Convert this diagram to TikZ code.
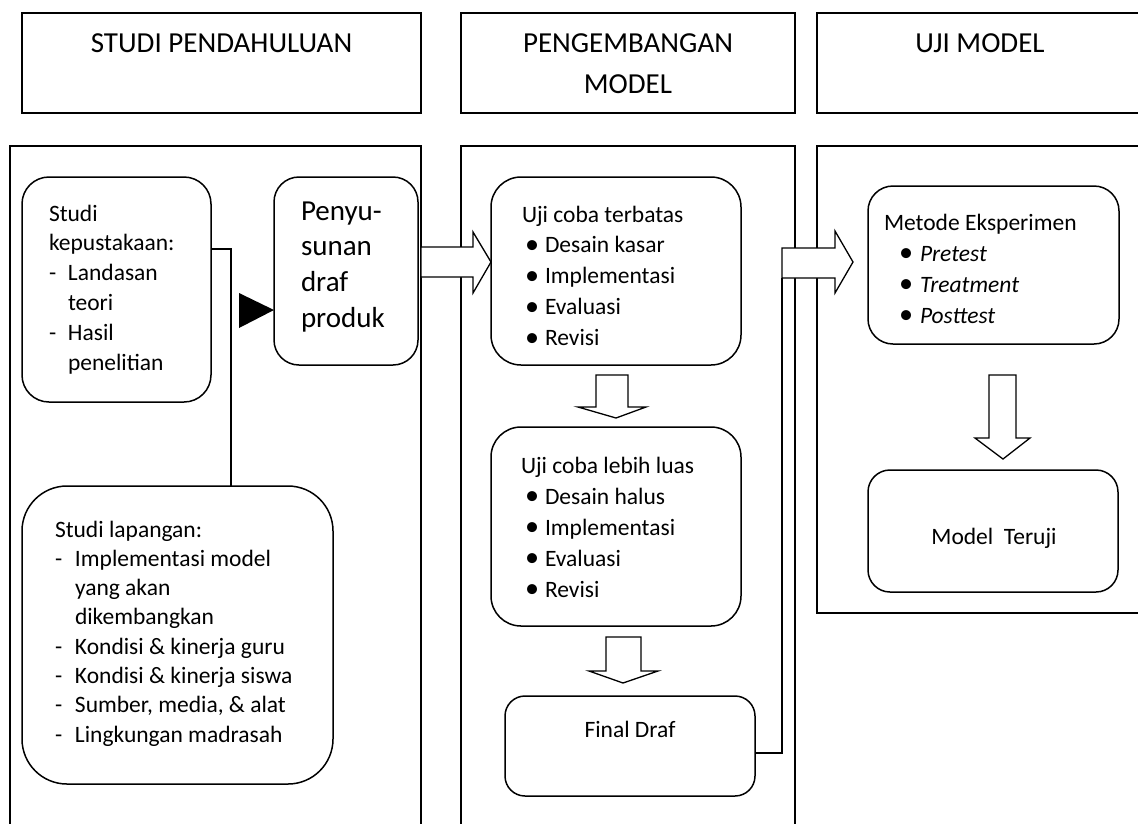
\documentclass[tikz,border=0pt]{standalone}
\usepackage{fontspec}
\usepackage{graphicx}
\setmainfont{Carlito}
\usetikzlibrary{calc}
\newcommand\Lrow[1]{\hbox{#1}}
\newcommand\Dash[2][19pt]{\hbox{\makebox[#1][l]{-}#2}}
\newcommand\Cont[2][19pt]{\hbox{\kern#1#2}}
\newcommand\Bul[3]{\hbox{\kern#1\makebox[#2][l]{\raisebox{-0.04em}{\scalebox{1.2}{•}}}#3}}
\begin{document}
\begin{tikzpicture}[x=1pt,y=-1pt,
  frame/.style={draw, line width=1.6pt, rectangle, inner sep=0pt, outer sep=0pt, anchor=north west},
  rbox/.style={draw, line width=1.5pt, rectangle, inner sep=0pt, outer sep=0pt, anchor=north west, fill=white},
  txt/.style={inner sep=0pt, outer sep=0pt, anchor=base west, font=\fontsize{23.5}{28}\selectfont},
  big/.style={font=\fontsize{29}{34}\selectfont},
  blk/.style={draw, line width=1.3pt, fill=white, line join=miter},
  conn/.style={draw, line width=1.6pt}
]
\useasboundingbox (0,0) rectangle (1138,823);
\clip (0,0) rectangle (1138,823);
\fill[white] (0,0) rectangle (1138,823);

% headers
\node[frame, minimum width=399pt, minimum height=100pt] (h1) at (22,13) {};
\node[frame, minimum width=334pt, minimum height=100pt] (h2) at (461,13) {};
\node[frame, minimum width=330pt, minimum height=100pt] (h3) at (817,13) {};
% columns
\node[frame, minimum width=411pt, minimum height=700pt] (c1) at (10,146) {};
\node[frame, minimum width=334pt, minimum height=700pt] (c2) at (461,146) {};
\node[frame, minimum width=330pt, minimum height=467pt] (c3) at (817,146) {};

% rounded boxes
\node[rbox, rounded corners=27pt, minimum width=189pt, minimum height=225pt] (kep) at (22,177) {};
\node[rbox, rounded corners=25pt, minimum width=144pt, minimum height=188pt] (pen) at (274,177) {};
\node[rbox, rounded corners=45pt, minimum width=311pt, minimum height=298pt] (lap) at (22,486) {};
\node[rbox, rounded corners=30pt, minimum width=250pt, minimum height=188pt] (ujt) at (491,177) {};
\node[rbox, rounded corners=30pt, minimum width=250pt, minimum height=199pt] (ujl) at (491,427) {};
\node[rbox, rounded corners=20pt, minimum width=250pt, minimum height=100pt] (fin) at (505,696) {};
\node[rbox, rounded corners=25pt, minimum width=251pt, minimum height=158pt] (met) at (868,186) {};
\node[rbox, rounded corners=22pt, minimum width=250pt, minimum height=122pt] (mod) at (868,470) {};

% texts
\node[txt, big, anchor=base] (h1t) at (221.5,52) {STUDI PENDAHULUAN};
\node[txt, big, anchor=base] (h2t) at (628,52) {\vtop{\baselineskip=41pt \hbox to 220pt{\hfil PENGEMBANGAN\hfil}\hbox to 220pt{\hfil MODEL\hfil}}};
\node[txt, big, anchor=base] (h3t) at (980,52) {UJI MODEL};

\node[txt] (kept) at (49,221) {\vtop{\baselineskip=29.8pt \Lrow{Studi}\Lrow{kepustakaan:}\Dash{Landasan}\Cont{teori}\Dash{Hasil}\Cont{penelitian}}};
\node[txt, big] (pent) at (301,220) {\vtop{\baselineskip=35.7pt \Lrow{Penyu-}\Lrow{sunan}\Lrow{draf}\Lrow{produk}}};
\node[txt] (lapt) at (55,537) {\vtop{\baselineskip=29.3pt \Lrow{Studi lapangan:}\Dash[20pt]{Implementasi model}\Cont[20pt]{yang akan}\Cont[20pt]{dikembangkan}\Dash[20pt]{Kondisi \& kinerja guru}\Dash[20pt]{Kondisi \& kinerja siswa}\Dash[20pt]{Sumber, media, \& alat}\Dash[20pt]{Lingkungan madrasah}}};
\node[txt] (ujtt) at (522,222) {\vtop{\baselineskip=30.8pt \Lrow{Uji coba terbatas}\Bul{3pt}{20pt}{Desain kasar}\Bul{3pt}{20pt}{Implementasi}\Bul{3pt}{20pt}{Evaluasi}\Bul{3pt}{20pt}{Revisi}}};
\node[txt] (ujlt) at (521,473) {\vtop{\baselineskip=31pt \Lrow{Uji coba lebih luas}\Bul{4pt}{20pt}{Desain halus}\Bul{4pt}{20pt}{Implementasi}\Bul{4pt}{20pt}{Evaluasi}\Bul{4pt}{20pt}{Revisi}}};
\node[txt, anchor=base] (fint) at (630,737) {Final Draf};
\node[txt] (mett) at (884,230) {\vtop{\baselineskip=31pt \Lrow{Metode Eksperimen}\Bul{15pt}{21pt}{\itshape Pretest}\Bul{15pt}{21pt}{\itshape Treatment}\Bul{15pt}{21pt}{\itshape Posttest}}};
\node[txt, anchor=base] (modt) at (994,544) {Model\ \ Teruji};

% block arrows
\draw[blk] (421,247) -- (473,247) -- (473,232) -- (ujt.west |- 0,262) -- (473,293) -- (473,277) -- (421,277) -- cycle;
\draw[blk] (782,248) -- (835,248) -- (835,231) -- (853,262) -- (835,293) -- (835,278) -- (782,278) -- cycle;
\draw[blk] (596,375) -- (628,375) -- (628,407) -- (646,407) -- (ujl.north |- 0,418) -- (578,407) -- (596,407) -- cycle;
\draw[blk] (606,637) -- (641,637) -- (641,671) -- (658,671) -- (623,683) -- (589,671) -- (606,671) -- cycle;
\draw[blk] (989,375) -- (1016,375) -- (1016,438) -- (1030,438) -- (1003,459) -- (975,438) -- (989,438) -- cycle;

% connectors
\coordinate (j1) at (231,249);
\draw[conn] (kep.east |- j1) -- (j1) -- (j1 |- lap.north);
\coordinate (tipA) at (pen.west |- 0,310);
\fill (tipA) -- ++(-35,-17) -- ++(0,35) -- cycle;
\coordinate (j2) at (782,753);
\coordinate (a2b) at (782,278);
\draw[conn] (fin.east |- j2) -- (j2) -- (a2b);
\end{tikzpicture}
\end{document}
